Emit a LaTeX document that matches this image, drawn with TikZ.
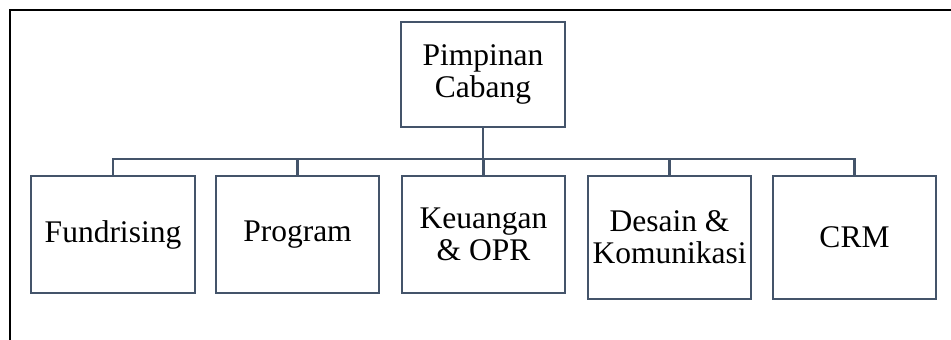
\documentclass[tikz,border=0pt]{standalone}
\usepackage{fontspec}
\setmainfont{Liberation Serif}
\definecolor{boxline}{HTML}{44546A}
\begin{document}
\begin{tikzpicture}[x=1pt,y=-1pt,
  unit/.style={draw=boxline,line width=2.1pt,fill=white,inner sep=0pt,
    align=center,font=\fontsize{31.5}{32}\selectfont},
  link/.style={draw=boxline,line width=2.2pt}]
\useasboundingbox (0,0) rectangle (951,340);
% frame: top and left edges only
\draw[line width=1.2pt] (10,340) -- (10,10) -- (951,10);
% head
\node[unit,minimum width=164pt,minimum height=105pt] (head) at (483,74.5) {Pimpinan\\Cabang};
% departments
\node[unit,minimum width=164pt,minimum height=117pt] (fund) at (113,234.5) {Fundrising};
\node[unit,minimum width=163pt,minimum height=117pt] (prog) at (297.5,234.5) {Program};
\node[unit,minimum width=163pt,minimum height=117pt] (keu) at (483.5,234.5) {Keuangan\\\& OPR};
\node[unit,minimum width=163pt,minimum height=123pt] (des) at (669.5,237.5) {Desain \&\\Komunikasi};
\node[unit,minimum width=163pt,minimum height=123pt] (crm) at (854.5,237.5) {CRM};
% connectors
\coordinate (bus) at (483,159);
\draw[link] (head.south) -- (bus);
\foreach \n in {fund,prog,keu,des,crm}
  \draw[link] (\n.north) -- (\n.north |- bus);
\draw[link,line cap=rect] (fund.north |- bus) -- (crm.north |- bus);
\end{tikzpicture}
\end{document}
